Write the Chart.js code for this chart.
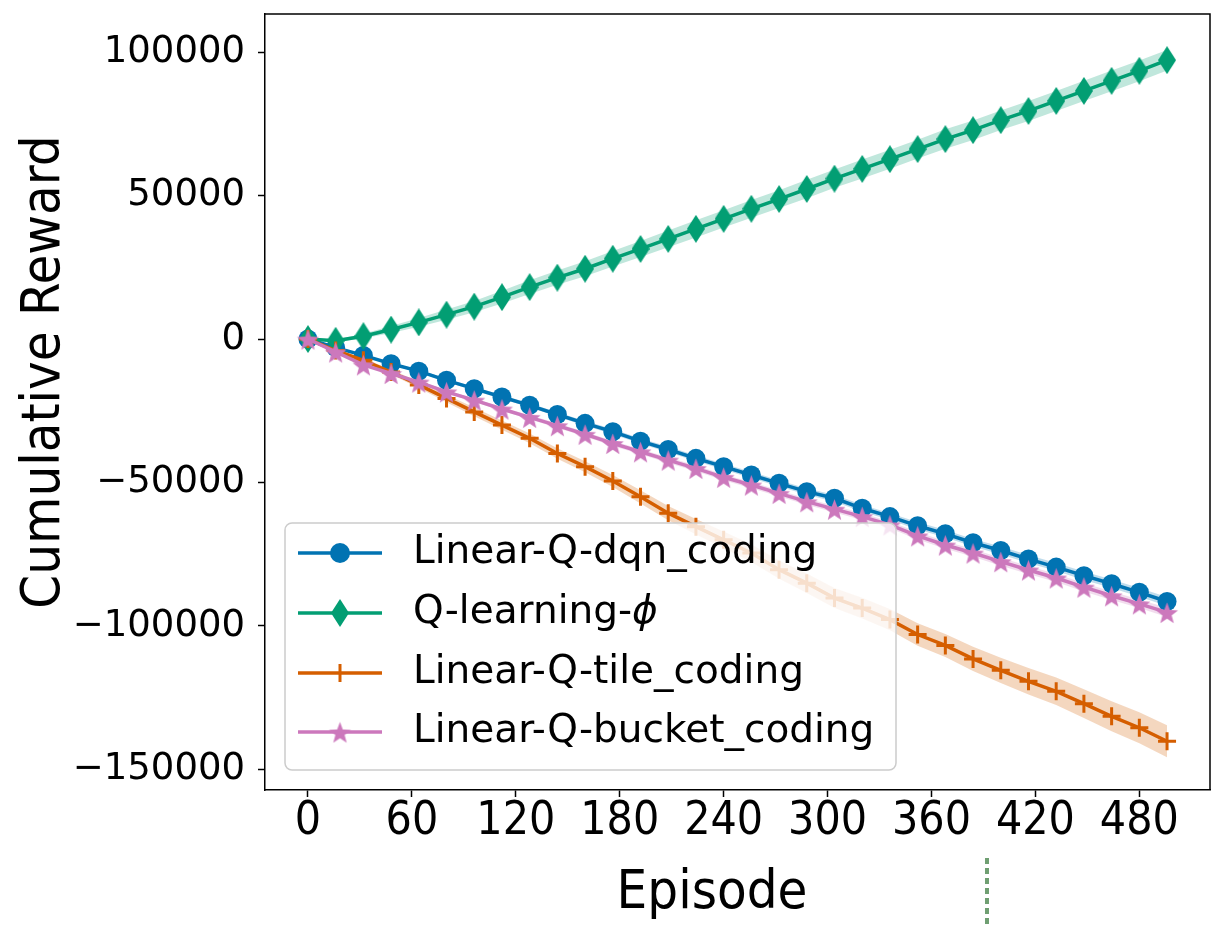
<!DOCTYPE html>
<html>
<head>
<meta charset="utf-8">
<script src="https://cdn.jsdelivr.net/npm/chart.js@4.4.1/dist/chart.umd.min.js"></script>
<style>
  html, body { margin: 0; padding: 0; background: #fff; }
  #wrap { width: 1222px; height: 931px; }
</style>
</head>
<body>
<div id="wrap"><canvas id="graph" width="1222" height="931"></canvas></div>
<script>
// episodes where the markers sit
const episodes = [0, 16, 32, 48, 64, 80, 96, 112, 128, 144, 160, 176, 192, 208, 224, 240,
    256, 272, 288, 304, 320, 336, 352, 368, 384, 400, 416, 432, 448, 464, 480, 496]

const seriesNames = ["Linear-Q-dqn_coding", "Q-learning-", "Linear-Q-tile_coding", "Linear-Q-bucket_coding"]

const dqnMean = [0, -3000, -5700, -8600, -11200, -14400, -17300, -20200, -23100, -26300, -29400, -32300,
    -35600, -38500, -41600, -44500, -47400, -50300, -53200, -55500, -59000, -61900, -65100, -67900,
    -71000, -73700, -76700, -79500, -82500, -85300, -88300, -91500]
const dqnStd = [0, 200, 300, 400, 500, 600, 600, 700, 700, 800, 800, 900, 900, 1000, 1000, 1000,
    1100, 1100, 1100, 1200, 1200, 1200, 1300, 1300, 1300, 1400, 1400, 1400, 1500, 1500, 1500, 1600]

const qlearnMean = [0, -600, 1000, 3300, 5800, 8500, 11300, 14600, 18100, 21400, 24500, 28000,
    31400, 34900, 38400, 41900, 45400, 48800, 52300, 55900, 59300, 62700, 66200, 69700,
    72800, 76300, 79500, 83000, 86500, 90000, 93500, 97200]
const qlearnStd = [0, 400, 800, 1200, 1500, 1800, 2000, 2200, 2400, 2500, 2600, 2700, 2800, 2900, 3000, 3000,
    3100, 3100, 3200, 3200, 3300, 3300, 3300, 3400, 3400, 3400, 3500, 3500, 3500, 3600, 3600, 3600]

const tileMean = [0, -4000, -7400, -11500, -16000, -20700, -25400, -30000, -34600, -39900, -44500, -49500,
    -55000, -60700, -65400, -70000, -74600, -80400, -85100, -90300, -93800, -97800, -103000, -106800,
    -111500, -115500, -119300, -122800, -127100, -131500, -135500, -140200]
const tileStd = [0, 400, 700, 900, 1100, 1300, 1500, 1600, 1700, 1800, 1900, 2100, 2300, 2500, 2700, 2900,
    3100, 3200, 3400, 3500, 3600, 3700, 3900, 4000, 4200, 4400, 4600, 4800, 5000, 5200, 5400, 5600]

const bucketMean = [0, -4500, -9000, -12000, -15000, -18400, -21300, -24400, -27300, -30200, -33200, -36400,
    -39300, -42200, -45100, -48200, -50900, -53800, -56700, -59300, -61900, -64800, -68600, -71800,
    -74600, -77600, -80500, -83300, -86500, -89500, -92300, -95300]
const bucketStd = [0, 200, 300, 400, 500, 600, 600, 700, 700, 800, 800, 900, 900, 1000, 1000, 1000,
    1100, 1100, 1100, 1200, 1200, 1200, 1300, 1300, 1300, 1400, 1400, 1400, 1500, 1500, 1500, 1600]

const xTicks = [0, 60, 120, 180, 240, 300, 360, 420, 480]
const yTicks = [-150000, -100000, -50000, 0, 50000, 100000]

const colors = ["#0173B2", "#029E73", "#D55E00", "#CC78BC"]
const bandColors = ["rgba(1,115,178,0.25)", "rgba(2,158,115,0.25)", "rgba(213,94,0,0.25)", "rgba(204,120,188,0.25)"]

// marker images
function diamondMarker(color, w, h) {
    const c = document.createElement("canvas")
    c.width = w; c.height = h
    const g = c.getContext("2d")
    g.fillStyle = color
    g.beginPath()
    g.moveTo(w / 2, 0); g.lineTo(w, h / 2); g.lineTo(w / 2, h); g.lineTo(0, h / 2)
    g.closePath(); g.fill()
    return c
}
function starMarker(color, r) {
    const s = Math.ceil(r * 2 + 2)
    const c = document.createElement("canvas")
    c.width = s; c.height = s
    const g = c.getContext("2d")
    g.fillStyle = color
    g.beginPath()
    for (let i = 0; i < 10; i++) {
        const rad = i % 2 === 0 ? r : r * 0.42
        const a = -Math.PI / 2 + i * Math.PI / 5
        const px = s / 2 + rad * Math.cos(a), py = s / 2 + 1.5 + rad * Math.sin(a)
        if (i === 0) g.moveTo(px, py); else g.lineTo(px, py)
    }
    g.closePath(); g.fill()
    return c
}
const diamondImg = diamondMarker(colors[1], 18, 28)
const starImg = starMarker(colors[3], 11.5)

function pts(mean, off) {
    return episodes.map((e, i) => ({ x: e, y: mean[i] + off[i] }))
}
function neg(a) { return a.map(v => -v) }

const means = [dqnMean, qlearnMean, tileMean, bucketMean]
const stds = [dqnStd, qlearnStd, tileStd, bucketStd]
const pointStyles = ["circle", diamondImg, "cross", starImg]
const radii = [9.5, 10, 9, 10]
const lineOrder = [4, 3, 2, 1]

const datasets = []
means.forEach((m, k) => {
    datasets.push({
        label: seriesNames[k],
        data: pts(m, m.map(() => 0)),
        borderColor: colors[k],
        backgroundColor: colors[k],
        borderWidth: 3.5,
        pointStyle: pointStyles[k],
        pointRadius: radii[k],
        pointBorderWidth: k === 2 ? 3 : 0,
        pointBorderColor: colors[k],
        pointBackgroundColor: colors[k],
        tension: 0,
        fill: false,
        order: lineOrder[k]
    })
})
means.forEach((m, k) => {
    datasets.push({
        label: "band-up-" + k,
        data: pts(m, stds[k]),
        borderWidth: 0,
        pointRadius: 0,
        backgroundColor: bandColors[k],
        fill: "+1",
        order: 10 + k
    })
    datasets.push({
        label: "band-lo-" + k,
        data: pts(m, neg(stds[k])),
        borderWidth: 0,
        pointRadius: 0,
        fill: false,
        order: 10 + k
    })
})

function fmt(v) {
    return v < 0 ? "\u2212" + Math.abs(v) : String(v)
}

const titleFont = "54px 'Liberation Sans Narrow', 'DejaVu Sans Condensed', sans-serif"

const decorations = {
    id: "decorations",
    afterDatasetsDraw(chart) {
        const ctx = chart.ctx
        const a = chart.chartArea
        ctx.save()
        // remaining spines
        ctx.strokeStyle = "#000"
        ctx.lineWidth = 1.5
        ctx.beginPath()
        ctx.moveTo(a.left, a.top); ctx.lineTo(a.right, a.top); ctx.lineTo(a.right, a.bottom)
        ctx.stroke()

        // legend box
        const bx = 285, by = 523, bw = 611, bh = 247, r = 7
        ctx.beginPath()
        ctx.moveTo(bx + r, by)
        ctx.arcTo(bx + bw, by, bx + bw, by + bh, r)
        ctx.arcTo(bx + bw, by + bh, bx, by + bh, r)
        ctx.arcTo(bx, by + bh, bx, by, r)
        ctx.arcTo(bx, by, bx + bw, by, r)
        ctx.closePath()
        ctx.fillStyle = "rgba(255,255,255,0.8)"
        ctx.fill()
        ctx.strokeStyle = "#cccccc"
        ctx.lineWidth = 1.5
        ctx.stroke()

        const rows = [553, 613, 673, 732]
        rows.forEach((ry, k) => {
            ctx.strokeStyle = colors[k]
            ctx.lineWidth = 3.5
            ctx.beginPath(); ctx.moveTo(298, ry); ctx.lineTo(382, ry); ctx.stroke()
            const st = pointStyles[k]
            if (st === "circle") {
                ctx.fillStyle = colors[k]
                ctx.beginPath(); ctx.arc(340, ry, 10, 0, Math.PI * 2); ctx.fill()
            } else if (st === "cross") {
                ctx.lineWidth = 3
                ctx.beginPath(); ctx.moveTo(340, ry - 9); ctx.lineTo(340, ry + 9); ctx.stroke()
            } else {
                ctx.drawImage(st, 340 - st.width / 2, ry - st.height / 2)
            }
            ctx.fillStyle = "#000"
            ctx.font = "39px 'DejaVu Sans'"
            ctx.textBaseline = "middle"
            ctx.textAlign = "left"
            ctx.fillText(seriesNames[k], 413, ry)
            if (k === 1) {
                const w = ctx.measureText(seriesNames[k]).width
                ctx.font = "italic 39px 'DejaVu Sans'"
                ctx.fillText("\u03D5", 413 + w, ry)
            }
        })

        // axis titles
        ctx.fillStyle = "#000"
        ctx.font = titleFont
        ctx.textAlign = "center"
        ctx.textBaseline = "middle"
        ctx.fillText("Episode", 712, 894)
        ctx.translate(45, 372)
        ctx.rotate(-Math.PI / 2)
        ctx.fillText("Cumulative Reward", 0, 0)
        ctx.restore()

        // short dotted mark below the axis
        ctx.save()
        ctx.strokeStyle = "#6f9f72"
        ctx.lineWidth = 4
        ctx.setLineDash([6, 4])
        ctx.beginPath(); ctx.moveTo(987, 858); ctx.lineTo(987, 926); ctx.stroke()
        ctx.restore()
    }
}

new Chart(document.getElementById("graph").getContext("2d"), {
    type: "line",
    data: { datasets: datasets },
    options: {
        responsive: false,
        animation: false,
        events: [],
        layout: { padding: { top: 14, right: 4, bottom: 0, left: 0 } },
        plugins: {
            legend: { display: false },
            tooltip: { enabled: false },
            filler: { propagate: false }
        },
        scales: {
            x: {
                type: "linear",
                min: -24.8,
                max: 520.8,
                afterBuildTicks(scale) { scale.ticks = xTicks.map(v => ({ value: v })) },
                afterFit(scale) {
                    scale.height = 141
                    scale.paddingLeft = 0
                    scale.paddingRight = 0
                },
                grid: { drawOnChartArea: false, tickLength: 7, tickColor: "#000", tickWidth: 1.5 },
                border: { color: "#000", width: 1.5 },
                ticks: {
                    color: "#000",
                    padding: 2,
                    maxRotation: 0,
                    font: { family: "'Liberation Sans Narrow', 'DejaVu Sans Condensed', sans-serif", size: 46, lineHeight: 1 },
                    callback: v => fmt(v)
                }
            },
            y: {
                min: -157200,
                max: 113300,
                afterBuildTicks(scale) { scale.ticks = yTicks.map(v => ({ value: v })) },
                afterFit(scale) {
                    scale.width = 265
                    scale.paddingTop = 0
                    scale.paddingBottom = 0
                },
                grid: { drawOnChartArea: false, tickLength: 7, tickColor: "#000", tickWidth: 1.5 },
                border: { color: "#000", width: 1.5 },
                ticks: {
                    color: "#000",
                    padding: 13,
                    font: { family: "'DejaVu Sans'", size: 37 },
                    callback: v => fmt(v)
                }
            }
        }
    },
    plugins: [decorations]
})
</script>
</body>
</html>
